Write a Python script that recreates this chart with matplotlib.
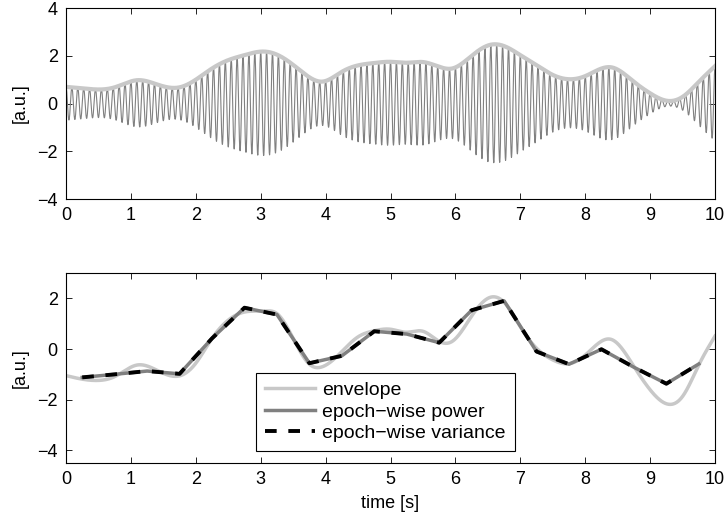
import numpy as np
import matplotlib
matplotlib.use('Agg')
import matplotlib.pyplot as plt

plt.rcParams['font.family'] = ['Liberation Sans', 'DejaVu Sans']
plt.rcParams['font.size'] = 13

# envelope knots (s)
env_t = [0, 0.25, 0.5, 0.75, 1.1, 1.45, 1.75, 2.0, 2.25, 2.5, 2.75, 3.05, 3.25,
         3.5, 3.75, 3.95, 4.25, 4.5, 4.75, 5.0, 5.25, 5.5, 5.75, 5.95, 6.25,
         6.55, 6.8, 7.0, 7.25, 7.5, 7.75, 8.0, 8.4, 8.75, 9.0, 9.25, 9.5,
         9.75, 10.0]
# raw envelope amplitude (top panel)
env_raw = [0.70, 0.64, 0.59, 0.68, 0.98, 0.76, 0.68, 1.00, 1.47, 1.82, 2.03,
           2.18, 2.05, 1.62, 1.10, 0.92, 1.33, 1.60, 1.70, 1.75, 1.71, 1.74,
           1.54, 1.47, 2.00, 2.47, 2.35, 2.03, 1.61, 1.20, 1.02, 1.15, 1.52,
           0.91, 0.43, 0.12, 0.28, 0.91, 1.57]
# normalised envelope (bottom panel)
env_norm = [-1.05, -1.19, -1.24, -1.09, -0.63, -0.90, -1.06, -0.56, 0.42, 1.14,
            1.46, 1.50, 1.40, 0.42, -0.60, -0.70, -0.10, 0.48, 0.72, 0.78,
            0.66, 0.70, 0.30, 0.30, 1.30, 2.05, 1.70, 0.88, 0.03, -0.43,
            -0.58, -0.24, 0.38, -0.69, -1.61, -2.16, -1.87, -0.63, 0.51]
carrier_hz = 11.0

# epoch centres (0.5 s epochs)
epoch_t = [0.25, 0.75, 1.25, 1.75, 2.25, 2.75, 3.25, 3.75, 4.25, 4.75,
           5.25, 5.75, 6.25, 6.75, 7.25, 7.75, 8.25, 8.75, 9.25, 9.75]
epoch_power = [-1.12, -1.0, -0.87, -0.98, 0.42, 1.63, 1.36, -0.56, -0.27, 0.70,
               0.59, 0.25, 1.53, 1.90, -0.10, -0.60, -0.01, -0.72, -1.37, -0.59]
epoch_variance = [-1.12, -1.0, -0.87, -0.98, 0.42, 1.63, 1.36, -0.56, -0.27, 0.70,
                  0.59, 0.25, 1.53, 1.90, -0.10, -0.60, -0.01, -0.72, -1.37, -0.59]


def spline(x, y, xs):
    # natural cubic spline through the knots
    x = np.asarray(x, float)
    y = np.asarray(y, float)
    n = len(x)
    h = np.diff(x)
    A = np.zeros((n, n))
    b = np.zeros(n)
    A[0, 0] = A[-1, -1] = 1
    for i in range(1, n - 1):
        A[i, i - 1] = h[i - 1]
        A[i, i] = 2 * (h[i - 1] + h[i])
        A[i, i + 1] = h[i]
        b[i] = 3 * ((y[i + 1] - y[i]) / h[i] - (y[i] - y[i - 1]) / h[i - 1])
    c = np.linalg.solve(A, b)
    idx = np.clip(np.searchsorted(x, xs) - 1, 0, n - 2)
    dx = xs - x[idx]
    bb = (y[idx + 1] - y[idx]) / h[idx] - h[idx] * (2 * c[idx] + c[idx + 1]) / 3
    d = (c[idx + 1] - c[idx]) / (3 * h[idx])
    return y[idx] + bb * dx + c[idx] * dx ** 2 + d * dx ** 3


t = np.linspace(0, 10, 5001)
amp = spline(env_t, env_raw, t)
norm = spline(env_t, env_norm, t)
signal = amp * np.cos(2 * np.pi * carrier_hz * t)

light = '#c8c8c8'
mid = '#808080'

fig = plt.figure(figsize=(7.26, 5.23), dpi=100)
ax1 = fig.add_axes([0.0909, 0.6195, 0.894, 0.365])
ax2 = fig.add_axes([0.0909, 0.1147, 0.894, 0.3633])

ax1.plot(t, signal, color=mid, linewidth=0.8)
ax1.plot(t, amp, color=light, linewidth=3)
ax1.set_xlim(0, 10)
ax1.set_ylim(-4, 4)
ax1.set_yticks([-4, -2, 0, 2, 4])
ax1.set_ylabel('[a.u.]', labelpad=6)

ax2.plot(t, norm, color=light, linewidth=2.5, label='envelope')
ax2.plot(epoch_t, epoch_power, color=mid, linewidth=2.5, label='epoch\u2212wise power')
ax2.plot(epoch_t, epoch_variance, color='black', linewidth=2.8,
         dashes=(3, 3), label='epoch\u2212wise variance')
ax2.set_xlim(0, 10)
ax2.set_ylim(-4.5, 3)
ax2.set_yticks([-4, -2, 0, 2])
ax2.set_ylabel('[a.u.]', labelpad=6)
ax2.set_xlabel('time [s]', labelpad=5)

leg = ax2.legend(loc='lower left', bbox_to_anchor=(0.293, 0.063),
                 fancybox=False, framealpha=1, borderaxespad=0,
                 handlelength=2.6, handletextpad=0.35, labelspacing=0.2,
                 borderpad=0.45, fontsize=14)
leg.get_frame().set_edgecolor('black')
leg.get_frame().set_linewidth(0.8)

for ax in (ax1, ax2):
    ax.set_xticks(range(11))
    ax.tick_params(direction='in', top=True, right=True, length=4, width=0.6,
                   labelsize=13, pad=6)
    for s in ax.spines.values():
        s.set_linewidth(0.8)

plt.savefig('out.png', dpi=100)
